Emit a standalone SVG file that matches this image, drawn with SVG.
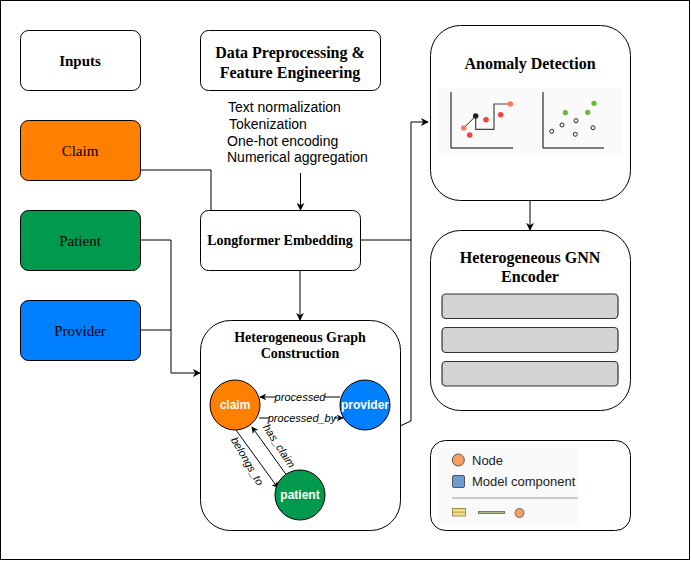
<svg xmlns="http://www.w3.org/2000/svg" width="691" height="561" viewBox="0 0 691 561">
<style>
.box{fill:#fff;stroke:#000;stroke-width:1}
.title{font-family:"Liberation Serif",serif;font-weight:bold;font-size:16px;fill:#000;text-anchor:middle}
.t14{font-size:14px}
.t15{font-size:15px}
.inp{font-family:"Liberation Serif",serif;font-size:15px;fill:#000;text-anchor:middle}
.list{font-family:"Liberation Sans",Arial,sans-serif;font-size:14px;fill:#000}
.cl{font-family:"Liberation Sans",Arial,sans-serif;font-size:12px;font-weight:bold;fill:#fff;text-anchor:middle}
.el{font-family:"Liberation Sans",Arial,sans-serif;font-size:11px;font-style:italic;fill:#000;text-anchor:middle}
.ln{fill:none;stroke:#000;stroke-width:1}
.leg{font-family:"Liberation Sans",Arial,sans-serif;font-size:13px;fill:#222}
.bar{fill:#d3d3d3;stroke:#333;stroke-width:1.2}
</style>
<defs>
<marker id="ah" viewBox="0 0 10 10" refX="9" refY="5" markerWidth="8" markerHeight="8" markerUnits="userSpaceOnUse" orient="auto"><path d="M0,0 L10,5 L0,10 L3,5 z" fill="#000"/></marker>
<marker id="ahs" viewBox="0 0 10 10" refX="9" refY="5" markerWidth="7" markerHeight="7" markerUnits="userSpaceOnUse" orient="auto"><path d="M0,0 L10,5 L0,10 L3,5 z" fill="#000"/></marker>
</defs>
<rect x="0.5" y="0.5" width="689" height="559" fill="#fff" stroke="#000"/>

<g id="connectors">
<polyline class="ln" points="140,170 211,170 211,210"/>
<line class="ln" x1="300.5" y1="173" x2="300.5" y2="210" marker-end="url(#ah)"/>
<polyline class="ln" points="140,240 171,240 171,373"/>
<polyline class="ln" points="140,330 171,330"/>
<line x1="171" y1="373" x2="200" y2="373" stroke="#555" stroke-width="1.5" marker-end="url(#ah)"/>
<polyline class="ln" points="360,240 411,240"/>
<polyline class="ln" points="400,426 411,421 411,122 428,122" marker-end="url(#ah)"/>
<line class="ln" x1="300" y1="270" x2="300" y2="320" marker-end="url(#ah)"/>
<line class="ln" x1="530" y1="200" x2="530" y2="230" marker-end="url(#ah)"/>
</g>

<g id="inputs"><rect class="box" x="20.5" y="30.5" width="120" height="60" rx="8"/><text class="title t15" x="80" y="66">Inputs</text></g>
<g id="preprocess"><rect class="box" x="200.5" y="30.5" width="180" height="60" rx="8"/><text class="title" x="290" y="58">Data Preprocessing &amp;</text><text class="title" x="290" y="78">Feature Engineering</text></g>
<g id="preprocess-steps">
<text class="list" x="228" y="112">Text normalization</text>
<text class="list" x="229" y="129">Tokenization</text>
<text class="list" x="227" y="146">One-hot encoding</text>
<text class="list" x="227" y="162">Numerical aggregation</text>
</g>
<g id="claim"><rect x="20.5" y="120.5" width="120" height="60" rx="8" fill="#ff8000" stroke="#000"/><text class="inp" x="80" y="156">Claim</text></g>
<g id="patient"><rect x="20.5" y="210.5" width="120" height="60" rx="8" fill="#00994d" stroke="#000"/><text class="inp" x="80" y="246">Patient</text></g>
<g id="provider"><rect x="20.5" y="300.5" width="120" height="60" rx="8" fill="#007fff" stroke="#000"/><text class="inp" x="80" y="336">Provider</text></g>
<g id="longformer"><rect class="box" x="200.5" y="210.5" width="160" height="60" rx="8"/><text class="title t14" x="280" y="245">Longformer Embedding</text></g>

<g id="graph">
<rect class="box" x="200.5" y="320.5" width="200" height="210" rx="30"/>
<text class="title t14" x="300" y="342">Heterogeneous Graph</text>
<text class="title t14" x="300" y="358">Construction</text>
<line class="ln" x1="340" y1="397" x2="260" y2="397" marker-end="url(#ahs)"/>
<rect x="276" y="391" width="48" height="11" fill="#fff"/>
<text class="el" x="300" y="401">processed</text>
<line class="ln" x1="259" y1="418" x2="343" y2="418" marker-end="url(#ahs)"/>
<rect x="270" y="413" width="64" height="11" fill="#fff"/>
<text class="el" x="302" y="422">processed_by</text>
<line class="ln" x1="236" y1="430" x2="278" y2="488" marker-end="url(#ahs)"/>
<line class="ln" x1="290" y1="480" x2="252" y2="427" marker-end="url(#ahs)"/>
<text class="el" transform="translate(244,463) rotate(60)">belongs_to</text>
<text class="el" transform="translate(276,448) rotate(57)">has_claim</text>
<g id="g-claim"><circle cx="235" cy="405" r="25" fill="#ff8000" stroke="#000"/><text class="cl" x="235" y="409">claim</text></g>
<g id="g-provider"><circle cx="365" cy="405" r="25" fill="#007fff" stroke="#000"/><text class="cl" x="365" y="409">provider</text></g>
<g id="g-patient"><circle cx="300" cy="495" r="25" fill="#00994d" stroke="#000"/><text class="cl" x="300" y="499">patient</text></g>
</g>

<g id="anomaly">
<rect class="box" x="430.5" y="25.5" width="200" height="175" rx="30"/>
<text class="title" x="530" y="69">Anomaly Detection</text>
<rect x="437" y="88" width="185" height="67" fill="#fafafa"/>
<polyline class="ln" points="451,92 451,148 513,148" stroke="#222" stroke-width="1.3"/>
<line x1="463.7" y1="128" x2="475.7" y2="116" stroke="#222" stroke-width="1"/>
<polyline points="475.7,116 475.7,129.3 494,129.3 494,104 510,104" fill="none" stroke="#444" stroke-width="1.2"/>
<circle cx="463.7" cy="128" r="2.8" fill="#f57e5e"/>
<circle cx="469.7" cy="135" r="2.8" fill="#ee4444"/>
<circle cx="486" cy="119.7" r="2.8" fill="#ee4444"/>
<circle cx="500.7" cy="114.7" r="2.8" fill="#ee4444"/>
<circle cx="510.3" cy="104" r="2.8" fill="#f57e5e"/>
<circle cx="475.7" cy="116" r="2.8" fill="#222"/>
<polyline class="ln" points="543,92 543,148 604,148" stroke="#222" stroke-width="1.3"/>
<circle cx="565.3" cy="112.7" r="2.6" fill="#66bb33"/>
<circle cx="587.7" cy="112.3" r="2.6" fill="#66bb33"/>
<circle cx="594" cy="103.3" r="2.6" fill="#66bb33"/>
<g fill="#fff" stroke="#222" stroke-width="1">
<circle cx="551.7" cy="131.3" r="2"/><circle cx="562" cy="125" r="2"/><circle cx="576" cy="120.7" r="2"/><circle cx="575.3" cy="134.3" r="2"/><circle cx="593" cy="127.7" r="2"/>
</g>
</g>

<g id="gnn">
<rect class="box" x="430.5" y="230.5" width="200" height="180" rx="30"/>
<text class="title" x="530" y="263">Heterogeneous GNN</text>
<text class="title" x="530" y="282">Encoder</text>
<rect class="bar" x="442" y="294" width="176" height="24.5" rx="4"/>
<rect class="bar" x="442" y="327.5" width="176" height="25" rx="4"/>
<rect class="bar" x="442" y="361.5" width="176" height="24.5" rx="4"/>
</g>

<g id="legend">
<rect class="box" x="430.5" y="440.5" width="200" height="90" rx="15"/>
<rect x="437" y="448" width="141" height="77" fill="#fafafa"/>
<circle cx="458.3" cy="460" r="6" fill="#f4a060" stroke="#555" stroke-width="1"/>
<text class="leg" x="472" y="465">Node</text>
<rect x="452.5" y="475.5" width="12" height="12" rx="1.5" fill="#6b9bd2" stroke="#555"/>
<text class="leg" x="472" y="486">Model component</text>
<line x1="452" y1="498" x2="578" y2="498" stroke="#999" stroke-width="1"/>
<rect x="452.5" y="508.5" width="13" height="7.5" fill="#f5dc82" stroke="#8a7a40" stroke-width="0.8"/>
<line x1="453" y1="512.2" x2="465" y2="512.2" stroke="#8a7a40" stroke-width="0.6"/>
<line x1="478" y1="512.5" x2="505" y2="512.5" stroke="#6b7a55" stroke-width="3"/>
<line x1="479" y1="512.5" x2="504" y2="512.5" stroke="#a9b98a" stroke-width="1.2"/>
<circle cx="519.5" cy="513" r="4.5" fill="#f4a060" stroke="#555" stroke-width="0.8"/>
</g>
</svg>
